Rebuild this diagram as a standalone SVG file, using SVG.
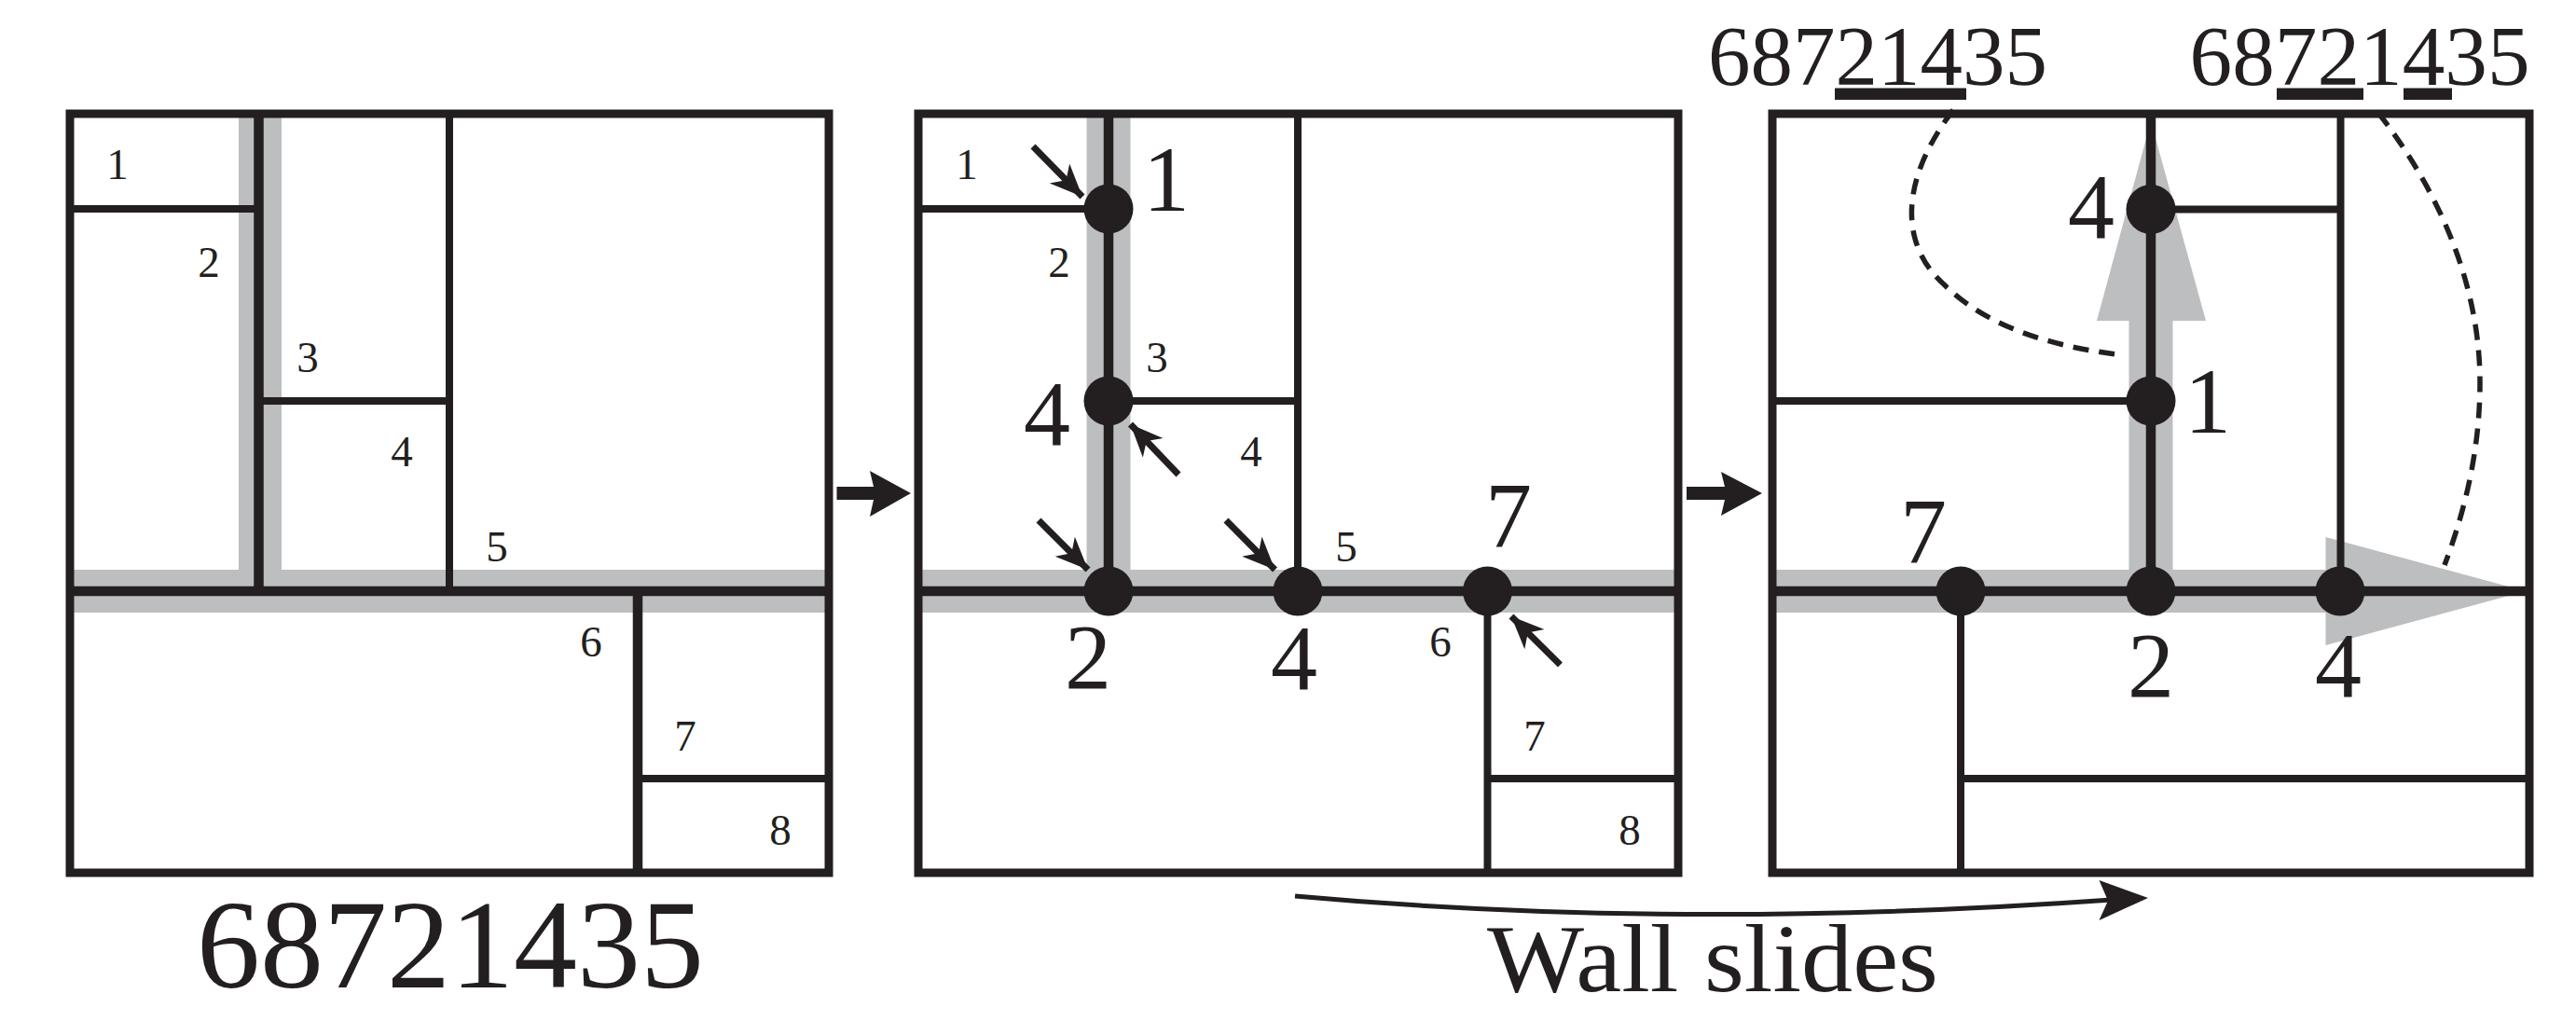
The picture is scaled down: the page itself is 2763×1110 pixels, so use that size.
<svg xmlns="http://www.w3.org/2000/svg" width="2763" height="1110" viewBox="0 0 2763 1110">
<style>
text{font-family:"Liberation Serif","Times New Roman",serif;fill:#231f20;text-anchor:middle}
.s{font-size:47px}
.b{font-size:100px}
.box{fill:#fff;stroke:none}
.f{fill:none;stroke:#231f20;stroke-width:9}
.w{stroke:#231f20;stroke-width:8;fill:none}
.m{stroke:#231f20;stroke-width:10.500;fill:none}
.g{fill:#bcbec0;stroke:none}
.d{fill:#231f20}
.ar{stroke:#231f20;stroke-width:7;fill:none;marker-end:url(#tip)}
.dash{stroke:#231f20;stroke-width:5.500;fill:none;stroke-dasharray:17 11}
.h{fill:#231f20}
</style>
<defs>
<marker id="tip" markerUnits="userSpaceOnUse" markerWidth="40" markerHeight="34" refX="35" refY="15" orient="auto"><path d="M0 0L35 15L0 30L10 15Z" fill="#231f20"/></marker>
</defs>

<rect id="white" x="0" y="0" width="2763" height="1110" fill="#fff"/>

<g id="panel-1">
<rect class="box" x="75" y="122" width="814" height="814"/>
<rect class="g" x="256" y="122" width="46" height="512"/>
<rect class="g" x="75" y="611" width="814" height="46"/>
<path class="w" d="M75 224H277M277 430H482M482 122V634M684 835H889"/>
<path class="m" d="M277.500 122V634M75 634H889M684 634V936"/>
<rect class="f" x="75" y="122" width="814" height="814"/>
<text class="s" x="126" y="192">1</text><text class="s" x="224" y="297">2</text><text class="s" x="330" y="399">3</text><text class="s" x="431" y="500">4</text><text class="s" x="533" y="602">5</text><text class="s" x="634" y="704">6</text><text class="s" x="735" y="805">7</text><text class="s" x="837" y="906">8</text>
<text x="483" y="1059" font-size="136" textLength="544" lengthAdjust="spacingAndGlyphs">68721435</text>
</g>

<g id="panel-2">
<rect class="box" x="985" y="122" width="815" height="814"/>
<rect class="g" x="1165.500" y="122" width="47" height="512"/>
<rect class="g" x="985" y="611" width="815" height="46"/>
<path class="w" d="M985 224H1189M1189 430H1392M1392 122V634M1595.500 634V936M1595.500 835H1800"/>
<path class="m" d="M1189 122V634M985 634H1800"/>
<rect class="f" x="985" y="122" width="815" height="814"/>
<circle class="d" cx="1189" cy="224" r="26.500"/><circle class="d" cx="1189" cy="430" r="26.500"/><circle class="d" cx="1189" cy="634" r="26.500"/><circle class="d" cx="1392" cy="634" r="26.500"/><circle class="d" cx="1595.500" cy="634" r="26.500"/>
<text class="s" x="1037" y="192">1</text><text class="s" x="1136" y="297">2</text><text class="s" x="1241" y="399">3</text><text class="s" x="1342" y="500">4</text><text class="s" x="1444" y="602">5</text><text class="s" x="1545" y="704">6</text><text class="s" x="1646" y="805">7</text><text class="s" x="1748" y="906">8</text>
<text class="b" x="1251" y="226">1</text><text class="b" x="1123" y="477">4</text><text class="b" x="1167" y="738">2</text><text class="b" x="1388" y="739">4</text><text class="b" x="1618" y="586">7</text>
</g>

<g id="panel-3">
<rect class="box" x="1901" y="122" width="812" height="814"/>
<path class="g" d="M1901 611H2283.500V344H2249L2307 130L2366 344H2330.500V611H2494.500V576L2709 634L2494.500 692V657H1901Z"/>
<path class="w" d="M2307 224.500H2510.500M2510.500 122V634M1901 430H2307M2103 634V936M2103 835H2713"/>
<path class="m" d="M2307 122V634M1901 634H2713"/>
<rect class="f" x="1901" y="122" width="812" height="814"/>
<circle class="d" cx="2307" cy="224.500" r="26.500"/><circle class="d" cx="2307" cy="430" r="26.500"/><circle class="d" cx="2307" cy="634" r="26.500"/><circle class="d" cx="2510" cy="634" r="26.500"/><circle class="d" cx="2103" cy="634" r="26.500"/>
<text class="b" x="2243" y="255">4</text><text class="b" x="2368" y="464">1</text><text class="b" x="2063" y="603">7</text><text class="b" x="2307" y="747">2</text><text class="b" x="2508" y="747">4</text>
</g>

<g id="order-left">
<text x="2014" y="91" font-size="91" textLength="364" lengthAdjust="spacingAndGlyphs">68721435</text>
<rect class="h" x="1968" y="94.500" width="141" height="12.500"/>
</g>
<g id="order-right">
<text x="2531" y="91" font-size="91" textLength="365" lengthAdjust="spacingAndGlyphs">68721435</text>
<rect class="h" x="2442" y="94.500" width="93" height="12.500"/>
<rect class="h" x="2578" y="94.500" width="52" height="12.500"/>
</g>
<g id="label-wall-slides">
<text x="1837" y="1063" font-size="103" textLength="484" lengthAdjust="spacingAndGlyphs">Wall slides</text>
</g>

<g id="connectors">
<path class="h" d="M897.500 522H937L933 505L977 529L933 554L937 536H897.500Z"/>
<path class="h" d="M1809 522H1850L1846 506L1890 529L1846 553L1850 536H1809Z"/>
<path class="ar" d="M1108 157L1161 211"/>
<path class="ar" d="M1264 509L1212.500 455"/>
<path class="ar" d="M1114 558L1167 611"/>
<path class="ar" d="M1315 558L1367.500 611"/>
<path class="ar" d="M1673.500 713L1621 661"/>
<path d="M1389 961Q1800 998 2265 965" fill="none" stroke="#231f20" stroke-width="5"/>
<path class="h" d="M2251.500 944L2304 963L2251.500 987L2261 966Z"/>
<path class="dash" d="M2095 118C2040 190 2035 260 2085 305C2130 350 2200 372 2278 381"/>
<path class="dash" d="M2551 121C2620 210 2660 310 2660 410C2660 480 2645 545 2622 606"/>
</g>
</svg>
